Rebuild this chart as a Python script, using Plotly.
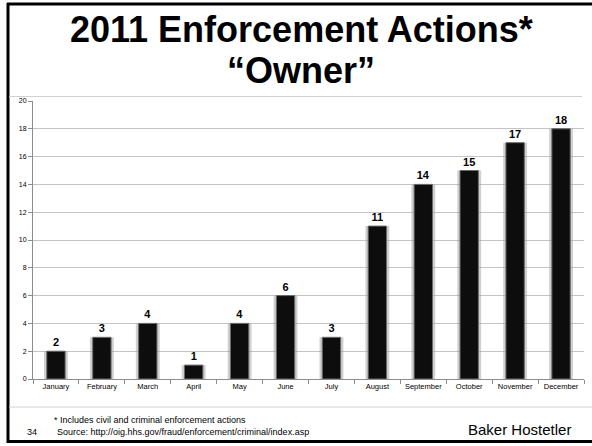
import plotly.graph_objects as go

months = ["January", "February", "March", "April", "May", "June", "July",
          "August", "September", "October", "November", "December"]
actions = [2, 3, 4, 1, 4, 6, 3, 11, 14, 15, 17, 18]
y_ticks = [0, 2, 4, 6, 8, 10, 12, 14, 16, 18, 20]

FONT = "Arial, Liberation Sans, sans-serif"
W, H = 592, 446
L, R, T, B = 33, 8, 101, 67
PW, PH = W - L - R, H - T - B


def px(x):
    return (x - L) / PW


def py(y):
    return (H - B - y) / PH


def hline(x0, x1, y, color, width):
    return dict(type="line", xref="paper", yref="paper", x0=px(x0), x1=px(x1),
                y0=py(y), y1=py(y), line=dict(color=color, width=width))


def vline(x, y0, y1, color, width):
    return dict(type="line", xref="paper", yref="paper", x0=px(x), x1=px(x),
                y0=py(y0), y1=py(y1), line=dict(color=color, width=width))


fig = go.Figure()
# soft shadow behind bars
fig.add_trace(go.Bar(x=months, y=actions, width=0.52,
                     marker=dict(color="rgba(150,150,150,0.45)", line=dict(width=0)),
                     hoverinfo="skip", showlegend=False))
fig.add_trace(go.Bar(x=months, y=actions, width=0.4,
                     marker=dict(color="#0d0d0d", line=dict(color="#6a6a6a", width=1)),
                     text=["<b>%d</b>" % v for v in actions], textposition="outside",
                     textfont=dict(family=FONT, size=11, color="#000000"),
                     cliponaxis=False, showlegend=False))

fig.update_layout(
    width=W, height=H, barmode="overlay",
    margin=dict(l=L, r=R, t=T, b=B),
    paper_bgcolor="white", plot_bgcolor="white",
    font=dict(family=FONT, color="#000000"),
    xaxis=dict(showgrid=False, showline=True, linecolor="#8c8c8c", linewidth=1,
               ticks="outside", tickson="boundaries", ticklen=4, tickcolor="#8c8c8c",
               tickangle=0, tickfont=dict(size=7.5, color="#000000"), fixedrange=True),
    yaxis=dict(range=[0, 20], tickvals=y_ticks, showgrid=True, gridcolor="#c4c4c4",
               gridwidth=1, showline=True, linecolor="#8c8c8c", linewidth=1,
               ticks="outside", ticklen=4, tickcolor="#8c8c8c",
               tickfont=dict(size=7, color="#000000"), zeroline=False, fixedrange=True),
    shapes=[
        # slide frame (left, top, bottom)
        vline(8, 443, 3, "#000000", 3),
        hline(7, 592, 4, "#000000", 3),
        hline(7, 592, 441.5, "#000000", 3),
        # separators
        hline(9, 582, 96.5, "#d0d0d0", 1),
        hline(9, 592, 407, "#d0d0d0", 1),
    ],
    annotations=[
        dict(text="<b>2011 Enforcement Actions*</b>", xref="paper", yref="paper",
             x=px(301), y=py(29), xanchor="center", yanchor="middle", showarrow=False,
             font=dict(size=36, family=FONT, color="#000000")),
        dict(text="<b>\u201cOwner\u201d</b>", xref="paper", yref="paper",
             x=px(301), y=py(70), xanchor="center", yanchor="middle", showarrow=False,
             font=dict(size=36, family=FONT, color="#000000")),
        dict(text="* Includes civil and criminal enforcement actions", xref="paper",
             yref="paper", x=px(52), y=py(420), xanchor="left", yanchor="middle",
             showarrow=False, font=dict(size=9, family=FONT, color="#000000")),
        dict(text="Source: http://oig.hhs.gov/fraud/enforcement/criminal/index.asp",
             xref="paper", yref="paper", x=px(55), y=py(432), xanchor="left",
             yanchor="middle", showarrow=False,
             font=dict(size=9, family=FONT, color="#000000")),
        dict(text="34", xref="paper", yref="paper", x=px(25), y=py(432),
             xanchor="left", yanchor="middle", showarrow=False,
             font=dict(size=9, family=FONT, color="#000000")),
        dict(text="Baker Hostetler", xref="paper", yref="paper", x=px(573), y=py(429),
             xanchor="right", yanchor="middle", showarrow=False,
             font=dict(size=15, family=FONT, color="#000000")),
    ],
)

fig.write_html(
    "out.html", config={"displayModeBar": False, "staticPlot": True},
    post_script=("document.documentElement.style.overflow='hidden';"
                 "document.body.style.margin='0';document.body.style.overflow='hidden';"))
